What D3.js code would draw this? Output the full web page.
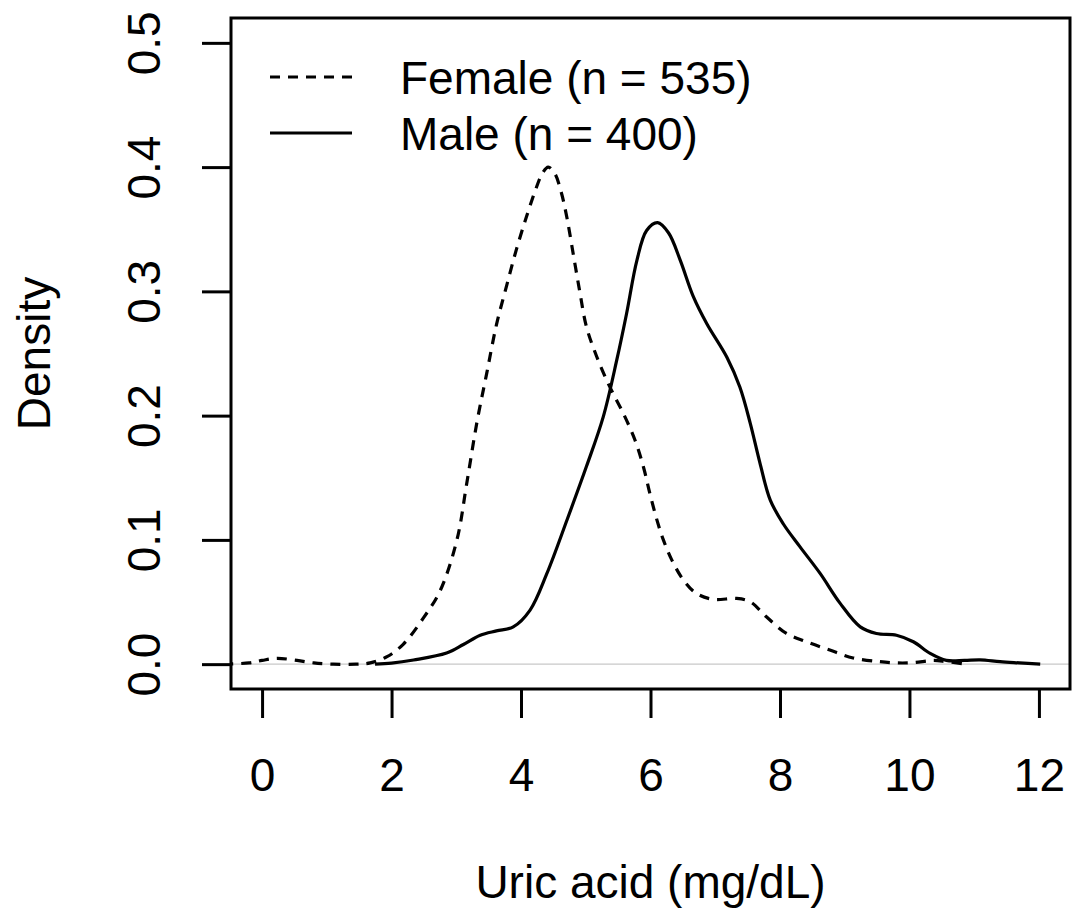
<!DOCTYPE html>
<html>
<head>
<meta charset="utf-8">
<script src="https://cdn.jsdelivr.net/npm/d3@7"></script>
<style>
  body { margin: 0; background: #fff; }
  svg { display: block; font-family: "Liberation Sans", Arial, Helvetica, sans-serif; }
</style>
</head>
<body>
<div id="chart"></div>
<script>
// density curves
const femaleX = [-0.6, -0.2, 0.0, 0.23, 0.54, 0.8, 1.1, 1.45, 1.67, 1.93, 2.18, 2.49, 2.75, 3.01, 3.16, 3.32, 3.47, 3.62, 3.78, 3.93, 4.09, 4.24, 4.33, 4.42, 4.52, 4.62, 4.71, 4.81, 4.91, 5.01, 5.17, 5.37, 5.58, 5.76, 5.89, 5.99, 6.10, 6.20, 6.33, 6.51, 6.71, 6.97, 7.33, 7.54, 7.79, 8.10, 8.41, 8.77, 9.13, 9.54, 9.80, 10.06, 10.37, 10.57, 10.88];
const femaleY = [0.000, 0.001, 0.003, 0.0047, 0.003, 0.001, 0.000, 0.000, 0.001, 0.006, 0.016, 0.037, 0.059, 0.100, 0.145, 0.195, 0.234, 0.273, 0.305, 0.334, 0.361, 0.384, 0.395, 0.400, 0.395, 0.380, 0.359, 0.329, 0.299, 0.2716, 0.2474, 0.2233, 0.2018, 0.1804, 0.1589, 0.1374, 0.1159, 0.0998, 0.0837, 0.0676, 0.0569, 0.0521, 0.0529, 0.0502, 0.0381, 0.0247, 0.018, 0.0113, 0.005, 0.002, 0.001, 0.0012, 0.003, 0.002, 0.000];

const maleX = [1.745, 2.0, 2.34, 2.85, 3.11, 3.37, 3.62, 3.88, 4.14, 4.40, 4.71, 5.01, 5.27, 5.48, 5.63, 5.79, 5.94, 6.11, 6.28, 6.46, 6.66, 6.87, 7.18, 7.38, 7.54, 7.69, 7.85, 8.05, 8.31, 8.62, 8.93, 9.24, 9.49, 9.80, 10.06, 10.32, 10.57, 10.85, 11.09, 11.40, 11.70, 12.02];
const maleY = [0.000, 0.0008, 0.0033, 0.0089, 0.0158, 0.0233, 0.0268, 0.030, 0.0435, 0.073, 0.116, 0.159, 0.199, 0.245, 0.282, 0.325, 0.349, 0.3553, 0.347, 0.325, 0.296, 0.274, 0.247, 0.223, 0.194, 0.162, 0.132, 0.113, 0.0944, 0.073, 0.0489, 0.030, 0.0247, 0.0233, 0.018, 0.0086, 0.0030, 0.0030, 0.0035, 0.002, 0.001, 0.000];

const xTicks = [0, 2, 4, 6, 8, 10, 12];
const yTicks = [0, 0.1, 0.2, 0.3, 0.4, 0.5];
const seriesNames = ["Female (n = 535)", "Male (n = 400)"];
const seriesDash = ["10,8", null];

const width = 1080, height = 912;
const box = { left: 231, right: 1070, top: 18, bottom: 689 };
const fontSize = 46;

const svg = d3.select("#chart").append("svg")
    .attr("width", width)
    .attr("height", height);

// R style: limits padded 4% on each side
const x = d3.scaleLinear().domain([-0.48, 12.48]).range([box.left, box.right]);
const y = d3.scaleLinear().domain([-0.02, 0.52]).range([box.bottom, box.top]);

svg.append("clipPath").attr("id", "plotclip")
    .append("rect")
    .attr("x", box.left).attr("y", box.top)
    .attr("width", box.right - box.left).attr("height", box.bottom - box.top);

const plot = svg.append("g").attr("clip-path", "url(#plotclip)");

// grey zero line
plot.append("line")
    .attr("x1", box.left).attr("x2", box.right)
    .attr("y1", y(0)).attr("y2", y(0))
    .attr("stroke", "#c8c8c8")
    .attr("stroke-width", 1.3);

const line = d3.line()
    .x(d => x(d[0]))
    .y(d => y(d[1]))
    .curve(d3.curveCatmullRom.alpha(0.5));

const series = [d3.zip(femaleX, femaleY), d3.zip(maleX, maleY)];

series.forEach((pts, i) => {
    plot.append("path")
        .datum(pts)
        .attr("d", line)
        .attr("fill", "none")
        .attr("stroke", "#000")
        .attr("stroke-width", 3.2)
        .attr("stroke-linejoin", "round")
        .attr("stroke-dasharray", seriesDash[i]);
});

// box
svg.append("rect")
    .attr("x", box.left).attr("y", box.top)
    .attr("width", box.right - box.left).attr("height", box.bottom - box.top)
    .attr("fill", "none")
    .attr("stroke", "#000")
    .attr("stroke-width", 3);

// x axis
const xAxis = svg.append("g")
    .attr("transform", `translate(0,${box.bottom})`)
    .call(d3.axisBottom(x).tickValues(xTicks).tickSize(29).tickPadding(40).tickFormat(d3.format("d")));
xAxis.select(".domain").remove();
xAxis.selectAll(".tick line").attr("stroke-width", 3);
xAxis.selectAll(".tick text")
    .attr("font-size", fontSize)
    .attr("font-family", "Liberation Sans, Arial, sans-serif")
    .attr("fill", "#000");

// y axis, labels parallel to the axis like R
const yAxis = svg.append("g")
    .attr("transform", `translate(${box.left},0)`)
    .call(d3.axisLeft(y).tickValues(yTicks).tickSize(29).tickFormat(d3.format(".1f")));
yAxis.select(".domain").remove();
yAxis.selectAll(".tick line").attr("stroke-width", 3);
yAxis.selectAll(".tick text")
    .attr("x", null)
    .attr("dy", null)
    .attr("text-anchor", "middle")
    .attr("transform", "translate(-71,0) rotate(-90)")
    .attr("font-size", fontSize)
    .attr("font-family", "Liberation Sans, Arial, sans-serif")
    .attr("fill", "#000");

// axis titles
svg.append("text")
    .attr("x", (box.left + box.right) / 2)
    .attr("y", 898)
    .attr("text-anchor", "middle")
    .attr("font-size", fontSize)
    .text("Uric acid (mg/dL)");

svg.append("text")
    .attr("transform", `translate(50,${(box.top + box.bottom) / 2}) rotate(-90)`)
    .attr("text-anchor", "middle")
    .attr("font-size", fontSize)
    .text("Density");

// legend
const legend = svg.append("g");
seriesNames.forEach((name, i) => {
    const cy = 77 + i * 56;
    legend.append("line")
        .attr("x1", 270).attr("x2", 352)
        .attr("y1", cy).attr("y2", cy)
        .attr("stroke", "#000")
        .attr("stroke-width", 3.2)
        .attr("stroke-dasharray", seriesDash[i]);
    legend.append("text")
        .attr("x", 400)
        .attr("y", cy + 16.5)
        .attr("font-size", fontSize)
        .text(name);
});
</script>
</body>
</html>
